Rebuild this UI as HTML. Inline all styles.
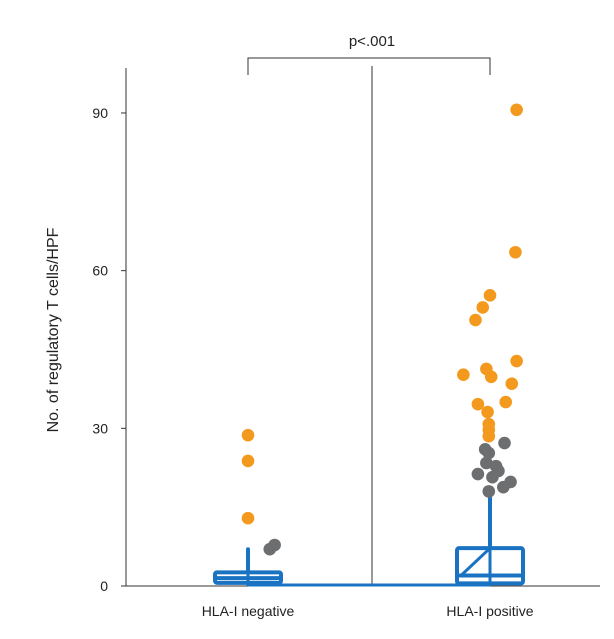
<!DOCTYPE html>
<html><head><meta charset="utf-8"><style>
body{margin:0;background:#fff;width:614px;height:634px;overflow:hidden}
text{font-family:"Liberation Sans",sans-serif;fill:#222}
</style></head><body>
<svg width="614" height="634">
<g id="g"></g>
</svg>
<script>
const categories=["HLA-I negative","HLA-I positive"];
const yTicks=[0,30,60,90];
const boxQ1=[0.6,0.5],boxMed=[1.5,2],boxQ3=[2.6,7.2],whiskHi=[7,18];
const orangeNeg=[28.7,23.8,12.9];
const orangeNegJit=[0,0,0];
const grayNeg=[7,7.8];
const grayNegJit=[0.18,0.22];
const orangePos=[90.6,63.5,55.3,53,50.6,42.8,41.3,39.8,40.2,38.5,34.6,35,33.1,30.8,29.7,28.5];
const orangePosJit=[0.22,0.21,0,-0.06,-0.12,0.22,-0.03,0.01,-0.22,0.18,-0.1,0.13,-0.02,-0.01,-0.01,-0.01];
const grayPos=[27.2,26,25.3,23.4,22.8,21.3,21.9,20.7,19.8,18.8,18];
const grayPosJit=[0.12,-0.04,-0.01,-0.03,0.05,-0.1,0.07,0.02,0.17,0.11,-0.01];
const NS="http://www.w3.org/2000/svg",g=document.getElementById('g');
const y=v=>586-v*5.256, x=i=>248+i*242+0;
const xj=(i,j)=>x(i)+j*121;
function el(t,a){const e=document.createElementNS(NS,t);for(const k in a)e.setAttribute(k,a[k]);g.appendChild(e);return e;}
let e;
e=el('line',{x1:126,y1:68,x2:126,y2:586,stroke:'#333','stroke-width':1});

e=el('line',{x1:126,y1:586,x2:600,y2:586,stroke:'#333','stroke-width':1});

e=el('line',{x1:372,y1:66,x2:372,y2:586,stroke:'#333','stroke-width':1});

yTicks.forEach(t=>{
 e=el('line',{x1:121,x2:126,y1:y(t),y2:y(t),stroke:'#333'});
 
 e=el('text',{x:108,y:y(t)+5,'text-anchor':'end','font-size':14});e.textContent=t;
 
});
e=el('text',{transform:'translate(58,330) rotate(-90)','text-anchor':'middle','font-size':16});
e.textContent='No. of regulatory T cells/HPF';

categories.forEach((c,i)=>{
 e=el('text',{x:x(i),y:616,'text-anchor':'middle','font-size':14});e.textContent=c;
 
});
e=el('path',{d:`M${x(0)} 75V58H${x(1)}V75`,fill:'none',stroke:'#333'});

e=el('text',{x:372,y:46,'text-anchor':'middle','font-size':15});e.textContent='p<.001';

// connecting line
e=el('line',{x1:x(0),x2:x(1),y1:585,y2:585,stroke:'#1a73c2','stroke-width':3});

const B='#1a73c2';
categories.forEach((c,i)=>{
 const w=33;
 e=el('line',{x1:x(i),x2:x(i),y1:y(boxQ3[i]),y2:y(whiskHi[i]),stroke:B,'stroke-width':4,'stroke-linecap':'round'});
 
 e=el('rect',{x:x(i)-w,y:y(boxQ3[i]),width:2*w,height:y(boxQ1[i])-y(boxQ3[i]),fill:'none',stroke:B,'stroke-width':4,rx:2});
 
 e=el('line',{x1:x(i)-w,x2:x(i)+w,y1:y(boxMed[i]),y2:y(boxMed[i]),stroke:B,'stroke-width':4});
 
 e=el('line',{x1:x(i),x2:x(i),y1:y(boxQ3[i]),y2:y(0),stroke:B,'stroke-width':3});
 
 if(i==1){e=el('line',{x1:x(i)-w+4,x2:x(i),y1:y(boxMed[i]),y2:y(boxQ3[i]),stroke:B,'stroke-width':3});
 }
});
function pts(vals,jit,i,col,name){vals.forEach((v,k)=>{
 e=el('circle',{cx:xj(i,jit[k]),cy:y(v),r:6.3,fill:col});
 });}
pts(grayNeg,grayNegJit,0,'#6d6e70','point-gray');
pts(orangeNeg,orangeNegJit,0,'#f39a1e','point-orange');
pts(grayPos,grayPosJit,1,'#6d6e70','point-gray');
pts(orangePos,orangePosJit,1,'#f39a1e','point-orange');
</script>
</body></html>
